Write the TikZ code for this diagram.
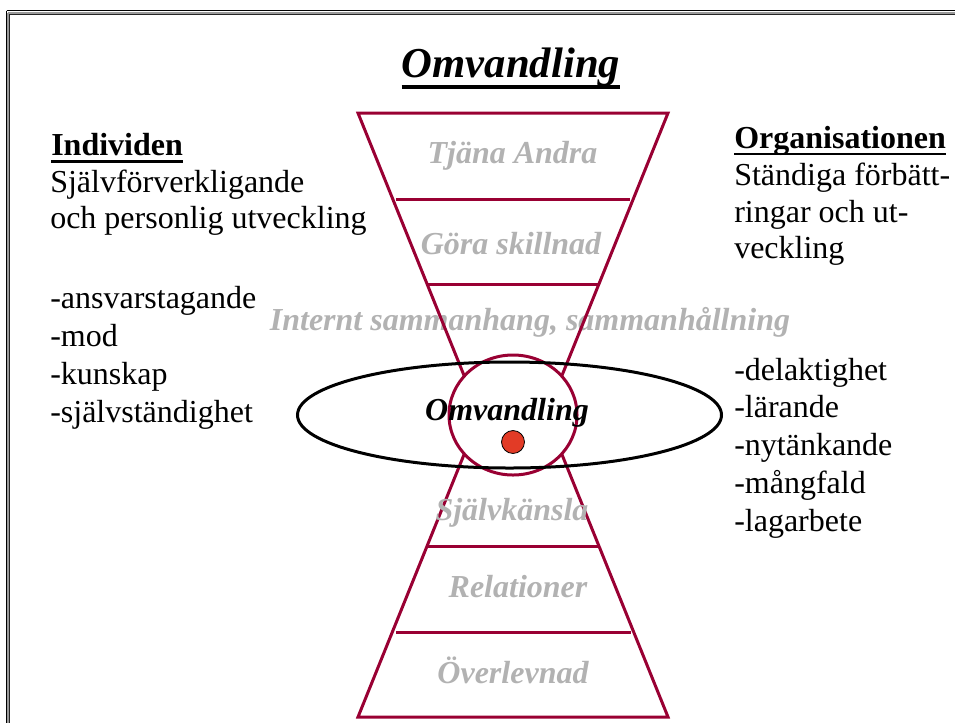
\documentclass[tikz,border=0pt]{standalone}
\usepackage{fontspec}
\setmainfont{Liberation Serif}
\definecolor{fun}{HTML}{990033}
\definecolor{lab}{HTML}{B2B2B2}
\definecolor{dotred}{HTML}{E23B26}
\definecolor{framegray}{HTML}{9A9A9A}
\begin{document}
\begin{tikzpicture}[x=0.75pt,y=-0.75pt,
  body/.style={font=\fontsize{24}{28}\selectfont, inner sep=0pt, anchor=base west},
  bodyb/.style={font=\fontsize{24}{28}\selectfont\bfseries, inner sep=0pt, anchor=base west},
  glabel/.style={font=\fontsize{24}{28}\selectfont\bfseries\itshape, text=lab, inner sep=0pt, anchor=base},
  funline/.style={draw=fun, line width=2.25pt},
  ulline/.style={line width=2pt}]
\useasboundingbox (0,0) rectangle (955,722);
\clip (0,0) rectangle (955,722);
% frame
\draw[black, line width=0.9pt] (6.5,10.6) -- (1100,10.6);
\draw[black, line width=0.9pt] (6.5,10.6) -- (6.5,900);
\draw[framegray, line width=1.5pt] (8.2,12.8) -- (1100,12.8);
\draw[framegray, line width=1.5pt] (8.2,12.8) -- (8.2,900);
\draw[black!85, line width=0.7pt] (9.6,14.2) -- (1100,14.2);
\draw[black!85, line width=0.7pt] (9.6,14.2) -- (9.6,900);
% title
\node[font=\fontsize{32}{36}\selectfont\bfseries\itshape, inner sep=0pt, anchor=base] (title) at (511,77) {Omvandling};
\draw[line width=3pt] ([yshift=-7.5pt]title.base west) -- ([yshift=-7.5pt]title.base east);
% middle gray label under lines
\node[glabel] (intern) at (530,330) {Internt sammanhang, sammanhållning};
% funnels
\draw[funline, line join=miter] (480,415) -- (358,113) -- (668,113) -- (546,415);
\draw[funline] (396,199) -- (630,199);
\draw[funline] (427,284) -- (599,284);
\draw[funline, line join=miter] (480,415) -- (358,717) -- (668,717) -- (546,415);
\draw[funline] (427,546) -- (599,546);
\draw[funline] (396,632) -- (631,632);
% circle, ellipse, dot
\draw[funline, fill=white] (513,415) ellipse [x radius=48pt, y radius=45pt];
\draw[line width=2.25pt] (509.5,415) ellipse [x radius=159pt, y radius=39.75pt];
\draw[fill=dotred, line width=0.6pt] (513,442) circle [radius=8.6pt];
% gray labels
\node[glabel] (tjana) at (512.5,163) {Tjäna Andra};
\node[glabel] (gora) at (511,254) {Göra skillnad};
\node[glabel] (sjalv) at (512,520) {Självkänsla};
\node[glabel] (rel) at (518,597) {Relationer};
\node[glabel] (over) at (513,683) {Överlevnad};
\node[font=\fontsize{24}{28}\selectfont\bfseries\itshape, inner sep=0pt, anchor=base] (omv) at (507,420) {Omvandling};
% left text
\node[bodyb] (ind) at (51,155) {Individen};
\draw[ulline] ([yshift=-5pt]ind.base west) -- ([yshift=-5pt]ind.base east);
\node[body] (l1) at (50,192) {Självförverkligande};
\node[body] (l2) at (50,228) {och personlig utveckling};
\node[body] (a1) at (50,308) {-ansvarstagande};
\node[body] (a2) at (50,346) {-mod};
\node[body] (a3) at (50,384) {-kunskap};
\node[body] (a4) at (50,422) {-självständighet};
% right text
\node[bodyb] (org) at (734,148) {Organisationen};
\draw[ulline] ([yshift=-4.5pt]org.base west) -- ([yshift=-4.5pt]org.base east);
\node[body] (r1) at (734,185) {Ständiga förbätt-};
\node[body] (r2) at (734,222) {ringar och ut-};
\node[body] (r3) at (734,258) {veckling};
\node[body] (b1) at (734,380) {-delaktighet};
\node[body] (b2) at (734,417) {-lärande};
\node[body] (b3) at (734,455) {-nytänkande};
\node[body] (b4) at (734,493) {-mångfald};
\node[body] (b5) at (734,531) {-lagarbete};
\end{tikzpicture}
\end{document}
